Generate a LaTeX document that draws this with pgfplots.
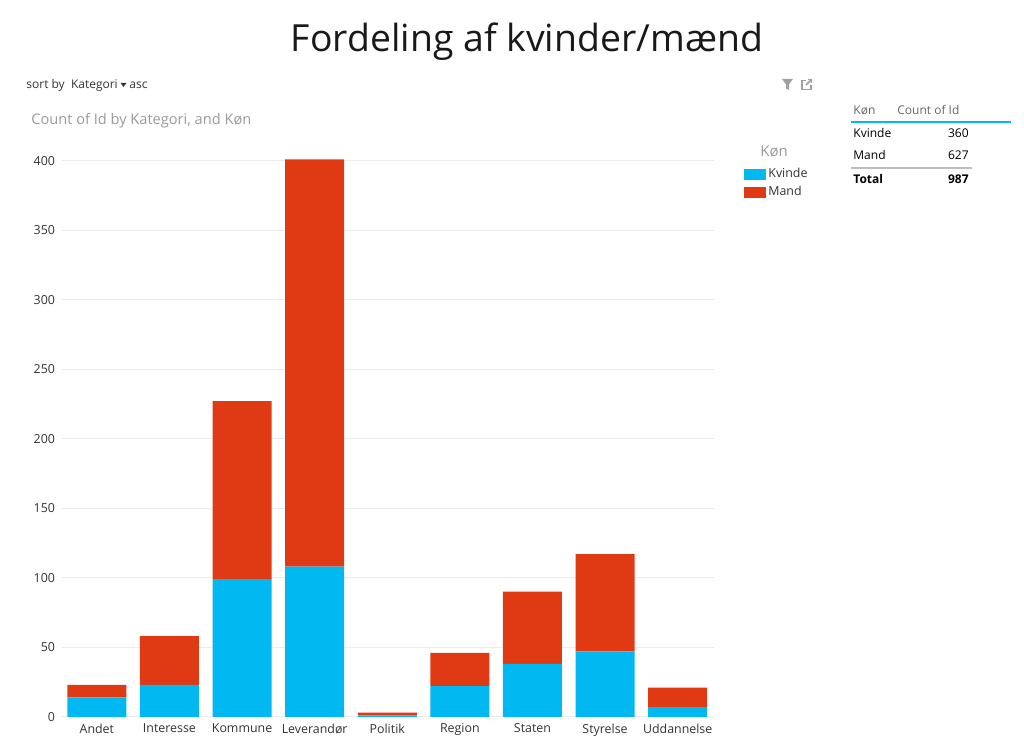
\documentclass[border=0pt]{standalone}
\usepackage{fontspec}
\setmainfont{Open Sans}
\usepackage{pgfplots}
\pgfplotsset{compat=1.18}
\definecolor{kv}{HTML}{01B8F0}
\definecolor{ma}{HTML}{E03A15}
\definecolor{txt}{HTML}{333333}
\definecolor{sub}{HTML}{9A9A9A}
\definecolor{hdr}{HTML}{666666}
\definecolor{icn}{HTML}{A0A0A0}
\begin{document}
\begin{tikzpicture}[x=0.5pt,y=0.5pt]
\path[use as bounding box] (0,0) rectangle (1024,748);
\begin{axis}[at={(31pt,15.6pt)}, anchor=south west, scale only axis,
  width=326pt, height=281.5pt,
  xmin=-0.48, xmax=8.5, ymin=0, ymax=405,
  ybar stacked, bar width=29.5pt,
  axis line style={draw=none}, major tick length=0pt,
  ytick={0,50,...,400}, ymajorgrids, grid style={draw=black!8, line width=0.7pt},
  xtick={0,...,8},
  xticklabels={Andet,Interesse,Kommune,Leverandør,Politik,Region,Staten,Styrelse,Uddannelse},
  tick label style={font=\fontsize{6.2}{7}\selectfont, text=txt},
  /pgf/number format/assume math mode=true,
  legend style={at={(1.046,0.978)}, anchor=north west, draw=none, fill=none, inner sep=0pt,
    font=\fontsize{6.2}{7}\selectfont, text=txt, row sep=0.6pt,
    nodes={inner sep=1pt}},
  legend cell align=left,
]
\addplot[fill=kv, draw=none, legend image code/.code={\fill[kv] (0pt,-2.8pt) rectangle (11pt,2.8pt);}]
  coordinates {(0,14) (1,23) (2,99) (3,108) (4,1) (5,22) (6,38) (7,47) (8,7)};
\addlegendentry{Kvinde}
\addplot[fill=ma, draw=none, legend image code/.code={\fill[ma] (0pt,-2.8pt) rectangle (11pt,2.8pt);}]
  coordinates {(0,9) (1,35) (2,128) (3,293) (4,2) (5,24) (6,52) (7,70) (8,14)};
\addlegendentry{Mand}
\end{axis}
% title and captions
\node[anchor=base, font=\fontsize{18.7}{22}\selectfont, text=black!90] at (527,696) {Fordeling af kvinder/mænd};
\node[anchor=base west, inner sep=0pt, font=\fontsize{6}{7}\selectfont, text=txt] at (26,659) {sort by\ \ Kategori};
\fill[txt] (120.5,665) -- (126.5,665) -- (123.5,661) -- cycle;
\node[anchor=base west, inner sep=0pt, font=\fontsize{6}{7}\selectfont, text=txt] at (129,659) {asc};
\node[anchor=base west, inner sep=0pt, font=\fontsize{7.3}{9}\selectfont, text=sub] at (31,623) {Count of Id by Kategori, and Køn};
\node[anchor=base west, inner sep=0pt, font=\fontsize{7.5}{9}\selectfont, text=sub] at (760,591) {Køn};
% icons
\fill[icn] (782,669) -- (793,669) -- (789,663.5) -- (789,658) -- (786,659.5) -- (786,663.5) -- cycle;
\draw[icn, line width=0.8pt] (806,667.5) -- (802,667.5) -- (802,658.5) -- (811,658.5) -- (811,662.5);
\draw[icn, line width=0.8pt] (806,663) -- (811.5,668.5);
\draw[icn, line width=0.8pt] (807.5,668.5) -- (811.5,668.5) -- (811.5,664.5);
% table
\node[anchor=base west, inner sep=0pt, font=\fontsize{6}{7}\selectfont, text=hdr] at (853,633) {Køn};
\node[anchor=base west, inner sep=0pt, font=\fontsize{6}{7}\selectfont, text=hdr] at (897,633) {Count of Id};
\draw[kv, line width=0.8pt] (851,626) -- (1011,626);
\node[anchor=base west, inner sep=0pt, font=\fontsize{6}{7}\selectfont, text=black] at (853,610) {Kvinde};
\node[anchor=base east, inner sep=0pt, font=\fontsize{6}{7}\selectfont, text=black] at (969,610) {360};
\node[anchor=base west, inner sep=0pt, font=\fontsize{6}{7}\selectfont, text=black] at (853,588) {Mand};
\node[anchor=base east, inner sep=0pt, font=\fontsize{6}{7}\selectfont, text=black] at (969,588) {627};
\draw[black!25, line width=0.6pt] (851,580) -- (972,580);
\node[anchor=base west, inner sep=0pt, font=\bfseries\fontsize{6}{7}\selectfont, text=black] at (853,564) {Total};
\node[anchor=base east, inner sep=0pt, font=\bfseries\fontsize{6}{7}\selectfont, text=black] at (969,564) {987};
\end{tikzpicture}
\end{document}
